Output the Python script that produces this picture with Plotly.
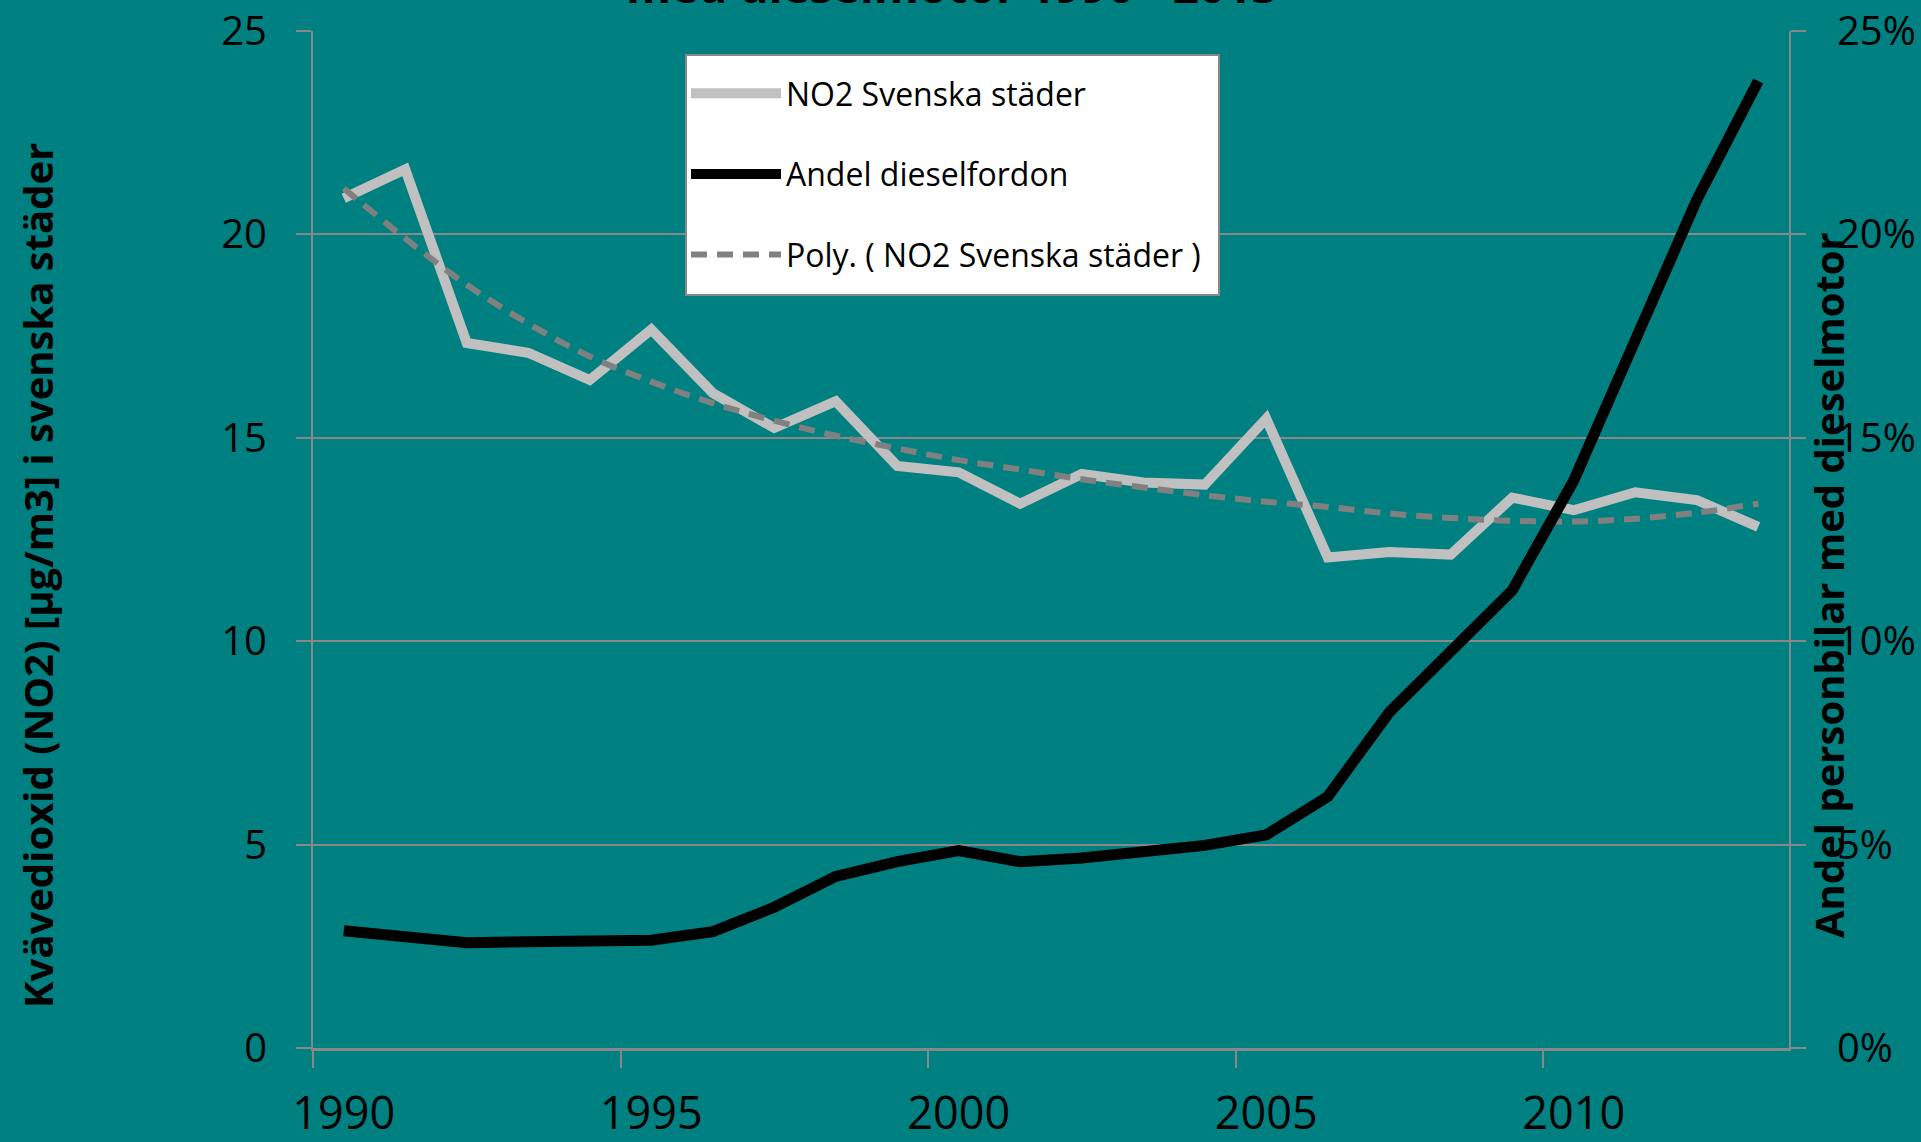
import plotly.graph_objects as go

# ---- data ----
years = [str(y) for y in range(1990, 2014)]
no2_cities = [20.89, 21.60, 17.33, 17.09, 16.42, 17.66, 16.10, 15.24, 15.90, 14.31,
              14.15, 13.38, 14.11, 13.90, 13.85, 15.47, 12.06, 12.19, 12.13, 13.53,
              13.22, 13.66, 13.47, 12.81]
diesel_share = [2.88, 2.74, 2.59, 2.61, 2.63, 2.65, 2.86, 3.46, 4.22, 4.58,
                4.85, 4.58, 4.67, 4.80, 4.98, 5.24, 6.18, 8.25, 9.75, 11.25,
                13.95, 17.38, 20.85, 23.77]
no2_poly_trend = [21.13, 19.90, 18.76, 17.81, 17.00, 16.38, 15.85, 15.42, 15.05, 14.74,
                  14.45, 14.22, 13.98, 13.78, 13.59, 13.43, 13.30, 13.14, 13.03, 12.96,
                  12.94, 13.01, 13.16, 13.38]
y_left_ticks = [0, 5, 10, 15, 20, 25]
y_right_ticks = [0, 5, 10, 15, 20, 25]
y_right_labels = ["0%", "5%", "10%", "15%", "20%", "25%"]

title_text = "med dieselmotor 1990 - 2013"
left_title = "Kvävedioxid (NO2) [µg/m3] i svenska städer"
right_title = "Andel personbilar med dieselmotor"

BG = "#008080"
GRID = "#888888"
FONT = "Open Sans"

# plot-area geometry in pixels (figure 1921 x 1142)
L, R, T, B = 313, 132, 31, 94
PW, PH = 1921 - L - R, 1142 - T - B


def px_x(x):
    return (x - L) / PW


def px_y(y):
    return (1142 - B - y) / PH


fig = go.Figure()
fig.add_trace(go.Scatter(
    x=years, y=no2_cities, mode="lines", name="NO2 Svenska städer",
    line=dict(color="#C0C0C0", width=10), legendgroup="a", yaxis="y"))
fig.add_trace(go.Scatter(
    x=years, y=diesel_share, mode="lines", name="Andel dieselfordon",
    line=dict(color="#000000", width=11), legendgroup="b", yaxis="y2"))
fig.add_trace(go.Scatter(
    x=years, y=no2_poly_trend, mode="lines", name="Poly. ( NO2 Svenska städer )",
    line=dict(color="#808080", width=6, dash="16px,10px", shape="spline", smoothing=1.0),
    legendgroup="c", yaxis="y"))

fig.update_layout(
    width=1921, height=1142,
    margin=dict(l=L, r=R, t=T, b=B, autoexpand=False),
    paper_bgcolor=BG, plot_bgcolor=BG,
    font=dict(family=FONT, color="#000000"),
    showlegend=True,
    legend=dict(
        x=px_x(686), y=px_y(66), xanchor="left", yanchor="top",
        bgcolor="rgba(0,0,0,0)", borderwidth=0,
        font=dict(family=FONT, size=32, color="#000000"),
        tracegroupgap=36, itemwidth=90,
    ),
    shapes=[
        dict(type="rect", xref="paper", yref="paper",
             x0=px_x(686), x1=px_x(1219), y0=px_y(295), y1=px_y(55),
             fillcolor="#FFFFFF", line=dict(color="#888888", width=2), layer="above"),
    ],
    xaxis=dict(
        type="category", range=[-0.5, 23.5],
        tickmode="linear", tick0=0, dtick=5, tickson="boundaries", tickangle=0,
        ticks="outside", ticklen=17, tickwidth=2, tickcolor=GRID,
        showgrid=False, zeroline=False, automargin=False,
        showline=True, linecolor=GRID, linewidth=3,
        tickfont=dict(family=FONT, size=45, color="#000000"),
        ticklabelstandoff=24,
    ),
    yaxis=dict(
        range=[0, 25], tickmode="array", tickvals=y_left_ticks,
        ticks="outside", ticklen=15, tickwidth=2, tickcolor=GRID,
        showgrid=True, gridcolor=GRID, gridwidth=2, zeroline=False, automargin=False,
        showline=True, linecolor=GRID, linewidth=2, mirror=False,
        tickfont=dict(family=FONT, size=40, color="#000000"),
        ticklabelstandoff=21,
    ),
    yaxis2=dict(
        range=[0, 25], tickmode="array", tickvals=y_right_ticks, ticktext=y_right_labels,
        overlaying="y", side="right",
        ticks="outside", ticklen=15, tickwidth=2, tickcolor=GRID,
        showgrid=False, zeroline=False, automargin=False,
        showline=True, linecolor=GRID, linewidth=2,
        tickfont=dict(family=FONT, size=40, color="#000000"),
        ticklabelstandoff=23,
    ),
    annotations=[
        dict(text=title_text, xref="paper", yref="paper",
             x=px_x(952), y=1.045, xanchor="center", yanchor="middle",
             showarrow=False, font=dict(family=FONT, size=46, color="#000000", weight=700)),
        dict(text=left_title, xref="paper", yref="paper",
             x=px_x(37), y=px_y(576), xanchor="center", yanchor="middle",
             textangle=-90, showarrow=False,
             font=dict(family=FONT, size=40, color="#000000", weight=700)),
        dict(text=right_title, xref="paper", yref="paper",
             x=px_x(1828), y=px_y(585), xanchor="center", yanchor="middle",
             textangle=-90, showarrow=False,
             font=dict(family=FONT, size=40, color="#000000", weight=700)),
    ],
)

fig.write_html("out.html",
               config={"displayModeBar": False},
               post_script="document.body.style.margin='0';document.body.style.overflow='hidden';")
